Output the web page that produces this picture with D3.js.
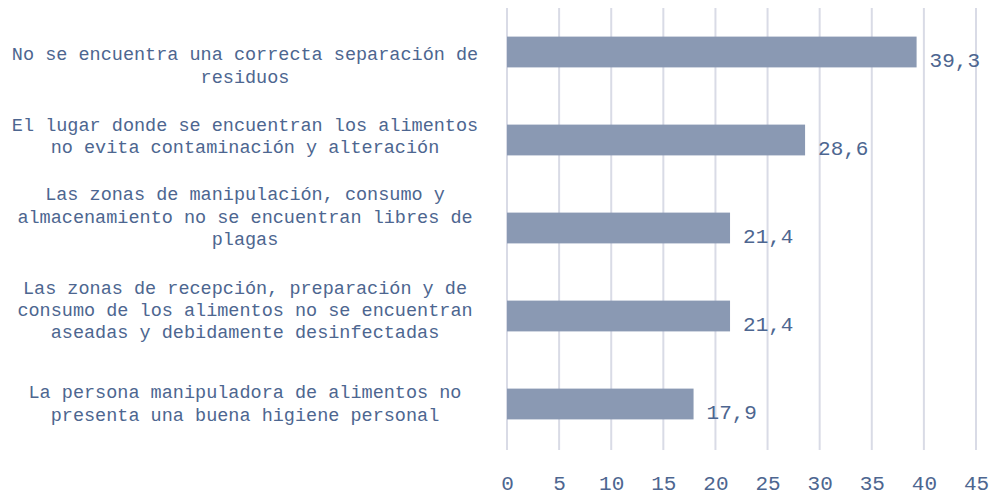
<!DOCTYPE html>
<html>
<head>
<meta charset="utf-8">
<script src="https://cdn.jsdelivr.net/npm/d3@7"></script>
<style>
  body { margin: 0; background: #fff; }
  text { font-family: "Liberation Mono", "DejaVu Sans Mono", monospace; }
</style>
</head>
<body>
<svg id="chart"></svg>
<script>
// data
const categories = [
    "No se encuentra una correcta separación de residuos",
    "El lugar donde se encuentran los alimentos no evita contaminación y alteración",
    "Las zonas de manipulación, consumo y almacenamiento no se encuentran libres de plagas",
    "Las zonas de recepción, preparación y de consumo de los alimentos no se encuentran aseadas y debidamente desinfectadas",
    "La persona manipuladora de alimentos no presenta una buena higiene personal"
];
const values = [39.3, 28.6, 21.4, 21.4, 17.9];
const xTicks = [0, 5, 10, 15, 20, 25, 30, 35, 40, 45];

// layout tweaks: vertical nudge of each category label (px)
const labelNudge = [15.5, -2, -9.5, -4, 1.5];

const width = 992, height = 495;
const textColor = "#4d6690";

const svg = d3.select("#chart")
    .attr("width", width)
    .attr("height", height);

const x = d3.scaleLinear()
    .domain([0, 45])
    .range([507, 976]);

const y = d3.scaleBand()
    .domain(categories)
    .range([8, 448])
    .paddingInner(0.65)
    .paddingOuter(0.325);

// gridlines
svg.append("g")
    .selectAll("line")
    .data(xTicks)
    .join("line")
    .attr("x1", d => x(d))
    .attr("x2", d => x(d))
    .attr("y1", 8)
    .attr("y2", 450)
    .attr("stroke", "#d9dbe6")
    .attr("stroke-width", 2);

// bars
svg.append("g")
    .selectAll("rect")
    .data(values)
    .join("rect")
    .attr("x", x(0))
    .attr("y", (d, i) => y(categories[i]))
    .attr("width", d => x(d) - x(0))
    .attr("height", y.bandwidth())
    .attr("fill", "#8a99b3");

// value labels
svg.append("g")
    .selectAll("text")
    .data(values)
    .join("text")
    .attr("x", d => x(d) + 13)
    .attr("y", (d, i) => y(categories[i]) + y.bandwidth() / 2 + 15)
    .attr("font-size", "21px")
    .attr("fill", textColor)
    .text(d => d.toFixed(1).replace(".", ","));

// x axis labels
const xAxis = svg.append("g")
    .attr("transform", "translate(0,490)")
    .call(d3.axisBottom(x).tickValues(xTicks).tickSize(0).tickPadding(0));
xAxis.select(".domain").remove();
xAxis.selectAll("text")
    .attr("font-size", "21px")
    .attr("fill", textColor)
    .style("font-family", "'Liberation Mono', 'DejaVu Sans Mono', monospace")
    .attr("dy", "0");

// wrap category text into lines of at most 42 characters
function wrap(str, maxLen) {
    const words = str.split(" ");
    const lines = [];
    let line = "";
    words.forEach(w => {
        const next = line ? line + " " + w : w;
        if (next.length > maxLen && line) {
            lines.push(line);
            line = w;
        } else {
            line = next;
        }
    });
    if (line) lines.push(line);
    return lines;
}

const lineH = 22.3;
const labels = svg.append("g")
    .selectAll("text")
    .data(categories)
    .join("text")
    .attr("text-anchor", "middle")
    .attr("font-size", "18.5px")
    .attr("fill", textColor);

labels.each(function (d, k) {
    const lines = wrap(d, 42);
    const cy = y(d) + y.bandwidth() / 2;
    const start = cy - (lines.length - 1) * lineH / 2 + 4 + labelNudge[k];
    d3.select(this).selectAll("tspan")
        .data(lines)
        .join("tspan")
        .attr("x", 245)
        .attr("y", (l, i) => start + i * lineH)
        .text(l => l);
});
</script>
</body>
</html>
